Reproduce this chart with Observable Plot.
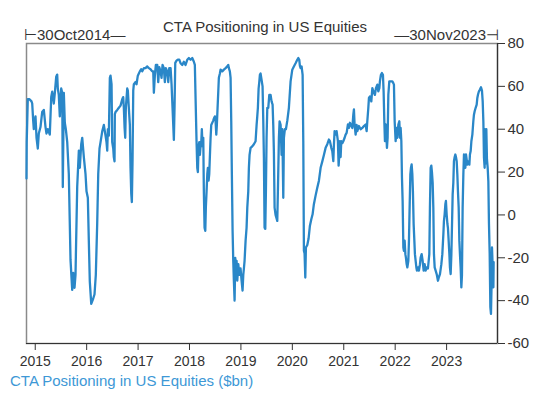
<!DOCTYPE html>
<html><head><meta charset="utf-8">
<script src="https://cdn.jsdelivr.net/npm/d3@7"></script>
<script src="https://cdn.jsdelivr.net/npm/@observablehq/plot@0.6"></script>
<style>
body{margin:0;background:#fff;}
#wrap{position:relative;width:541px;height:394px;font-family:"Liberation Sans",Arial,sans-serif;color:#333;overflow:hidden;}
#wrap svg{position:absolute;left:0;top:0;}
.t{position:absolute;white-space:nowrap;line-height:1;}
</style></head><body>
<div id="wrap"></div>
<script>
// Chart texts
const titleText = "CTA Positioning in US Equities";
const startLabel = "⊢30Oct2014—";
const endLabel = "—30Nov2023⊣";
const legendText = "CTA Positioning in US Equities ($bn)";

// Axis ticks
const xTicks = [2015, 2016, 2017, 2018, 2019, 2020, 2021, 2022, 2023];
const yTicks = [-60, -40, -20, 0, 20, 40, 60, 80];
const xDomain = [2014.83, 2023.99]; // 30 Oct 2014 .. end of 2023 (decimal years)

// Series: [decimal year, CTA positioning $bn]
const positioning = [
[2014.830,17],[2014.834,34],[2014.855,54],[2014.888,54],[2014.927,53],[2014.941,52],[2014.960,44],[2014.972,40],
[2015.005,46],[2015.025,36],[2015.050,31],[2015.069,38],[2015.102,41],[2015.135,48],[2015.167,49],[2015.200,41],
[2015.219,38],[2015.244,40],[2015.283,37.5],[2015.311,55],[2015.330,57.5],[2015.361,52],[2015.381,57],[2015.408,64.5],
[2015.427,65.5],[2015.439,59],[2015.458,56],[2015.478,46],[2015.505,59],[2015.525,57],[2015.536,13],[2015.556,57],
[2015.575,43],[2015.595,40],[2015.622,34],[2015.653,19],[2015.686,-21],[2015.719,-35],[2015.739,-27],[2015.764,-34],
[2015.783,-28],[2015.816,13],[2015.848,30],[2015.867,22],[2015.894,33],[2015.914,36],[2015.945,27],[2015.978,19],
[2015.997,11],[2016.023,8],[2016.042,-12],[2016.061,-31],[2016.089,-41.5],[2016.128,-39],[2016.153,-37],[2016.178,-28],
[2016.205,-4],[2016.225,19],[2016.250,31],
[2016.270,34],[2016.303,39],[2016.334,42],[2016.367,37],[2016.386,34],[2016.400,30],[2016.412,40],[2016.431,37],
[2016.451,64],[2016.464,65],[2016.484,61],[2016.497,34],[2016.517,31],[2016.528,27],[2016.542,25],[2016.548,47],
[2016.561,48],[2016.595,49],[2016.626,50],[2016.659,51],[2016.692,54],[2016.711,55],[2016.723,50],[2016.737,41],
[2016.750,36],[2016.762,50],[2016.789,59],[2016.801,58],[2016.820,50],[2016.840,42],[2016.853,22],[2016.867,10],
[2016.879,6],[2016.892,25],[2016.906,58],[2016.918,61],[2016.951,62],[2016.970,61],[2016.995,65],[2017.015,66],
[2017.034,67],[2017.061,68],[2017.081,67],[2017.112,68.5],[2017.145,68.5],[2017.178,69.3],[2017.209,68.5],[2017.242,68],
[2017.275,67],[2017.295,67],[2017.307,57],[2017.326,65],[2017.346,70],[2017.373,70],[2017.392,62],[2017.412,69],
[2017.437,67],[2017.456,64],[2017.476,70],[2017.501,68.5],[2017.521,62],[2017.540,68.5],[2017.567,67],[2017.587,62],
[2017.606,68.5],[2017.632,68.5],[2017.651,61],[2017.670,50],[2017.684,42],[2017.696,35],[2017.709,50],[2017.723,71],
[2017.748,72],[2017.774,72.5],[2017.801,72.5],
[2017.826,70.8],[2017.859,70],[2017.890,71.5],[2017.923,70],[2017.956,72.4],[2017.988,73.2],[2018.021,72.4],[2018.054,73.2],
[2018.085,71.5],[2018.104,70],[2018.118,54.6],[2018.137,34.4],[2018.151,22],[2018.163,20],[2018.176,32],[2018.190,34],
[2018.202,28],[2018.215,32],[2018.229,34],[2018.240,40],[2018.254,32],[2018.268,36],[2018.279,11],[2018.293,-6],
[2018.307,-7.4],[2018.318,3.5],[2018.332,11],[2018.346,19],[2018.357,22],[2018.371,16],[2018.384,19],[2018.396,27],
[2018.410,36],[2018.423,42],[2018.443,43],[2018.462,44],[2018.474,45],[2018.493,46],[2018.507,44],[2018.521,37.5],
[2018.532,42],[2018.546,50],[2018.560,57.7],[2018.571,64],[2018.591,66],[2018.604,67.8],[2018.637,67],[2018.669,67.8],
[2018.702,68.5],[2018.735,69.3],[2018.754,70],[2018.766,68.5],[2018.785,67],[2018.799,64],[2018.812,43.7],[2018.824,19],
[2018.838,-7.4],[2018.851,-21.4],[2018.863,-30.7],[2018.877,-40],[2018.890,-20],[2018.902,-28],[2018.916,-21.4],[2018.929,-30.7],
[2018.949,-23],[2018.968,-28],[2018.993,-25],[2019.013,-30.7],[2019.032,-35.3],[2019.046,-28],[2019.058,-25],[2019.071,-21.4],
[2019.091,-12],[2019.110,-6],[2019.124,3.4],[2019.143,11],[2019.155,22],[2019.168,28],[2019.188,31.3],[2019.221,32],
[2019.252,33],[2019.285,34.4],[2019.305,42],[2019.318,46],[2019.330,50],[2019.344,59],[2019.357,62],[2019.369,65.4],
[2019.382,66],
[2019.402,63],[2019.421,60],[2019.435,43.7],[2019.447,26.7],[2019.460,-5.9],[2019.474,-6.5],[2019.486,11],[2019.499,36],
[2019.513,50],[2019.532,50],[2019.552,56],[2019.577,56],[2019.596,53],[2019.616,51.5],[2019.629,42],[2019.641,29.8],
[2019.655,3.4],[2019.674,0],[2019.688,-1.2],[2019.707,-2.8],[2019.719,11],[2019.739,36],[2019.752,43.7],[2019.772,42],
[2019.791,28],[2019.805,40],[2019.824,8],[2019.836,36],[2019.855,40],[2019.875,40],[2019.902,44],[2019.933,50],
[2019.966,62.3],[2019.999,67.8],[2020.030,69.3],[2020.063,70.8],[2020.096,72.4],[2020.116,73.2],[2020.135,72.4],[2020.147,69.5],
[2020.161,68.5],[2020.180,69.3],[2020.200,65.4],[2020.213,34.4],[2020.225,-16.7],[2020.238,-18],[2020.252,-29.2],[2020.264,-15.2],
[2020.291,-14],[2020.316,-11],[2020.342,-5],[2020.369,-2],[2020.394,0.3],[2020.419,5],[2020.452,9],[2020.485,12.7],
[2020.517,16],[2020.550,22],[2020.583,25],[2020.614,28],[2020.647,31.3],[2020.680,33],[2020.711,35.2],[2020.731,34.4],
[2020.758,31.3],[2020.777,29.8],[2020.797,25.1],[2020.809,33],[2020.822,39.1],[2020.842,37.5],[2020.861,39.1],[2020.886,34.4],
[2020.900,23],[2020.913,28],[2020.925,34.4],[2020.939,27],[2020.952,34.4],[2020.972,33.5],[2020.991,34.4],
[2021.017,36],[2021.036,37.5],[2021.056,38.3],[2021.081,42.2],[2021.100,40.6],[2021.120,43],[2021.147,41.5],[2021.167,40.6],
[2021.186,46.8],[2021.198,49.2],[2021.211,42],[2021.231,37.5],[2021.250,42],[2021.264,39.1],[2021.295,41.5],[2021.328,40],
[2021.361,40.6],[2021.392,41.5],[2021.425,42.2],[2021.445,39.1],[2021.458,43.7],[2021.478,50],[2021.490,54.6],[2021.509,55.3],
[2021.536,53],[2021.556,59.2],[2021.575,57.7],[2021.587,57],[2021.606,56],[2021.626,59.2],[2021.653,60.8],[2021.672,57.7],
[2021.692,59.2],[2021.703,62.3],[2021.723,65.4],[2021.742,66.2],[2021.762,65.4],[2021.775,57.7],[2021.789,43.7],[2021.801,34.4],
[2021.814,42.2],[2021.828,37.5],[2021.840,31.3],[2021.853,35.9],[2021.867,56.1],[2021.886,62.3],[2021.912,62.3],[2021.945,62.3],
[2021.964,61.5],[2021.976,60.8],[2021.990,43.7],[2022.009,34.4],[2022.028,40.6],[2022.042,36],[2022.062,42.2],[2022.081,43.7],
[2022.093,36],[2022.106,40.6],[2022.120,34.4],[2022.132,17.4],[2022.145,6.5],[2022.159,-15.2],[2022.170,-16.7],[2022.184,-12],
[2022.198,-18.3],[2022.209,-19.9],[2022.223,-22.9],[2022.237,-24.5],[2022.256,-21.4],[2022.268,-12],[2022.281,3.4],[2022.295,18.9],
[2022.307,22],[2022.320,23.6],[2022.334,18.9],[2022.345,11],[2022.359,-4.3],[2022.373,-12],[2022.384,-18.3],[2022.398,-21.4],
[2022.412,-24.5],[2022.423,-26],[2022.443,-24.5],[2022.462,-26],[2022.482,-23],[2022.495,-19.9],
[2022.515,-18.3],[2022.534,-21.4],[2022.554,-26],[2022.573,-23],[2022.592,-26],[2022.612,-24.5],[2022.637,-25],[2022.664,-18.3],
[2022.676,3.4],[2022.690,22],[2022.703,23],[2022.715,20],[2022.729,15],[2022.742,3.4],[2022.754,-18.3],[2022.768,-24.5],
[2022.787,-26],[2022.807,-27.6],[2022.832,-30.7],[2022.851,-29],[2022.871,-27.6],[2022.898,-23],[2022.917,-18.3],[2022.937,-9],
[2022.948,-3],[2022.962,0.3],[2022.976,5],[2022.987,6.5],[2023.001,0.3],[2023.015,-4],[2023.026,-6],[2023.040,-12],
[2023.054,-18.3],[2023.065,-24.5],[2023.079,-27.6],[2023.093,-18.3],[2023.104,-6],[2023.118,9.6],[2023.131,15],[2023.143,25.1],
[2023.157,27],[2023.170,28.2],[2023.182,27],[2023.196,25.1],[2023.209,18.9],[2023.221,11],[2023.235,3.4],[2023.248,-12],
[2023.260,-18.3],[2023.273,-24.5],[2023.287,-33.8],[2023.299,-28],[2023.312,3.4],[2023.326,19],[2023.338,28.2],[2023.351,27],
[2023.365,22],[2023.377,28.2],[2023.404,23.5],[2023.423,25],[2023.443,23.5],[2023.454,28.2],[2023.468,29.8],[2023.482,34.4],
[2023.501,37.5],[2023.520,43.7],[2023.532,46.8],[2023.546,48.4],[2023.565,50],[2023.585,51.5],[2023.598,54.6],[2023.610,56.1],
[2023.629,57.7],[2023.649,58.5],[2023.669,59.6],[2023.688,58],[2023.702,53],[2023.715,43.7],[2023.727,26.7],[2023.740,22],
[2023.746,40],[2023.760,24],[2023.773,40],[2023.785,26],[2023.799,22],[2023.812,15.8],[2023.824,-4],[2023.838,-18.3],
[2023.851,-43],[2023.863,-46.2],[2023.877,-30],[2023.883,-15.2],[2023.896,-24],[2023.910,-33.8],[2023.915,-22]
];

const data = positioning.map(([t, v]) => ({t, v}));
const font = '"Liberation Sans", Arial, sans-serif';

const chart = Plot.plot({
  width: 541,
  height: 394,
  marginTop: 43,
  marginBottom: 51,
  marginLeft: 26,
  marginRight: 44,
  style: {fontFamily: font, fontSize: "14px", color: "#333", background: "transparent", overflow: "visible"},
  x: {type: "linear", domain: xDomain},
  y: {domain: [yTicks[0], yTicks[yTicks.length - 1]]},
  marks: [
    Plot.frame({stroke: "#8a8a8a", strokeWidth: 1.5}),
    Plot.ruleY([yTicks[0]], {stroke: "#333", strokeWidth: 1.2}),
    Plot.ruleX([xDomain[1]], {stroke: "#333", strokeWidth: 1.2}),
    Plot.axisX({ticks: xTicks, tickFormat: d => String(d), tickSize: 7, tickPadding: 6, fontSize: 14, label: null}),
    Plot.axisY({anchor: "right", ticks: yTicks, tickFormat: d => String(d), tickSize: 7, tickPadding: 3, fontSize: 15, label: null}),
    Plot.line(data, {x: "t", y: "v", stroke: "#2a87c8", strokeWidth: 2.3, strokeLinejoin: "round"})
  ]
});

const wrap = document.getElementById("wrap");
wrap.appendChild(chart);

function addText(txt, css) {
  const d = document.createElement("div");
  d.className = "t";
  d.textContent = txt;
  Object.assign(d.style, css);
  wrap.appendChild(d);
}
addText(titleText, {left: "0px", width: "530px", textAlign: "center", top: "19px", fontSize: "15px"});
addText(startLabel, {left: "24px", top: "27px", fontSize: "15px"});
addText(endLabel, {right: "42px", top: "27px", fontSize: "15px"});
addText(legendText, {left: "10px", top: "373px", fontSize: "15px", color: "#3d98d6"});
</script>
</body></html>
